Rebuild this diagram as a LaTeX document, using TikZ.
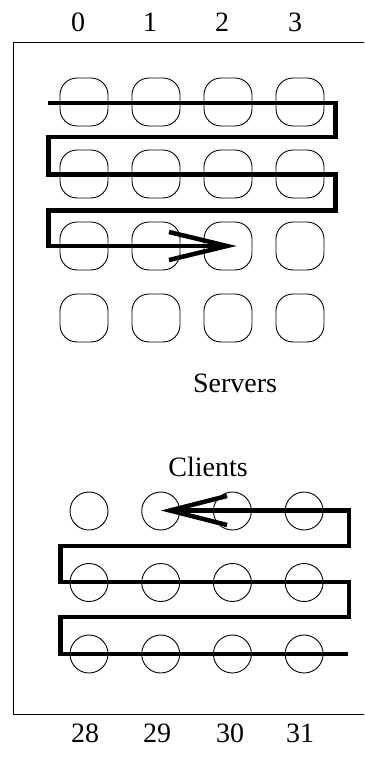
\documentclass[tikz,border=0pt]{standalone}
\usepackage{fontspec}
\setmainfont{Liberation Serif}
\begin{document}
\begin{tikzpicture}[x=1pt,y=-1pt,
  server/.style={draw, line width=0.9pt, rounded corners=17pt,
                 minimum width=48pt, minimum height=48pt, inner sep=0pt},
  client/.style={draw, circle, line width=0.9pt, minimum size=38pt, inner sep=0pt},
  lbl/.style={font=\fontsize{28}{30}\selectfont, anchor=base, inner sep=0pt},
  route/.style={line width=4.5pt, line join=miter, line cap=butt},
]
\useasboundingbox (0,0) rectangle (364,759);
\clip (0,0) rectangle (364,759);

% enclosing frame (its right side runs past the page edge)
\draw[line width=0.9pt] (13,42) rectangle (380,714);

% column numbers
\node[lbl] (n0) at (78,32) {0};
\node[lbl] (n1) at (150,32) {1};
\node[lbl] (n2) at (222,32) {2};
\node[lbl] (n3) at (295,32) {3};
\node[lbl] (n28) at (85,742) {28};
\node[lbl] (n29) at (157,742) {29};
\node[lbl] (n30) at (230,742) {30};
\node[lbl] (n31) at (300,742) {31};

% servers: 4x4 grid of rounded squares
\foreach \r in {0,...,3}
  \foreach \c in {0,...,3} {
    \pgfmathtruncatemacro\n{4*\r+\c}
    \node[server] (s\n) at (84+72*\c, 102+72*\r) {};
  }

% clients: 3x4 grid of circles
\foreach \r in {0,...,2}
  \foreach \c in {0,...,3} {
    \pgfmathtruncatemacro\n{4*\r+\c}
    \node[client] (c\n) at (89+71.7*\c, 511+71.5*\r) {};
  }

\node[lbl] (srvlbl) at (235,392) {Servers};
\node[lbl] (clilbl) at (208,476) {Clients};

% serpentine scan through the servers
\coordinate (sIn) at (48,103);
\coordinate (sR1) at (335.5,103);
\coordinate (sR2) at (335.5,137);
\coordinate (sL2) at (48.5,137);
\coordinate (sL3) at (48.5,174.5);
\coordinate (sR3) at (335.5,174.5);
\coordinate (sR4) at (335.5,210.5);
\coordinate (sL4) at (48.5,210.5);
\coordinate (sL5) at (48.5,246);
\coordinate (sTip) at (227,246);
\coordinate (sArmA) at (169,232);
\coordinate (sArmB) at (169,260);
\draw[route] (sIn) -- (sR1) -- (sR2) -- (sL2) -- (sL3) -- (sR3)
  -- (sR4) -- (sL4) -- (sL5) -- (sTip);
\draw[route] (sArmA) -- (sTip) -- (sArmB);

% serpentine scan through the clients, bottom to top
\coordinate (cIn) at (348,654);
\coordinate (cL1) at (60.5,654);
\coordinate (cL2) at (60.5,617);
\coordinate (cR2) at (349,617);
\coordinate (cR3) at (349,582);
\coordinate (cL3) at (60.5,582);
\coordinate (cL4) at (60.5,546);
\coordinate (cR4) at (349,546);
\coordinate (cR5) at (349,510.5);
\coordinate (cTip) at (170,510.5);
\coordinate (cArmA) at (227,496);
\coordinate (cArmB) at (227,525);
\draw[route] (cIn) -- (cL1) -- (cL2) -- (cR2) -- (cR3) -- (cL3)
  -- (cL4) -- (cR4) -- (cR5) -- (cTip);
\draw[route] (cArmA) -- (cTip) -- (cArmB);
\end{tikzpicture}
\end{document}
